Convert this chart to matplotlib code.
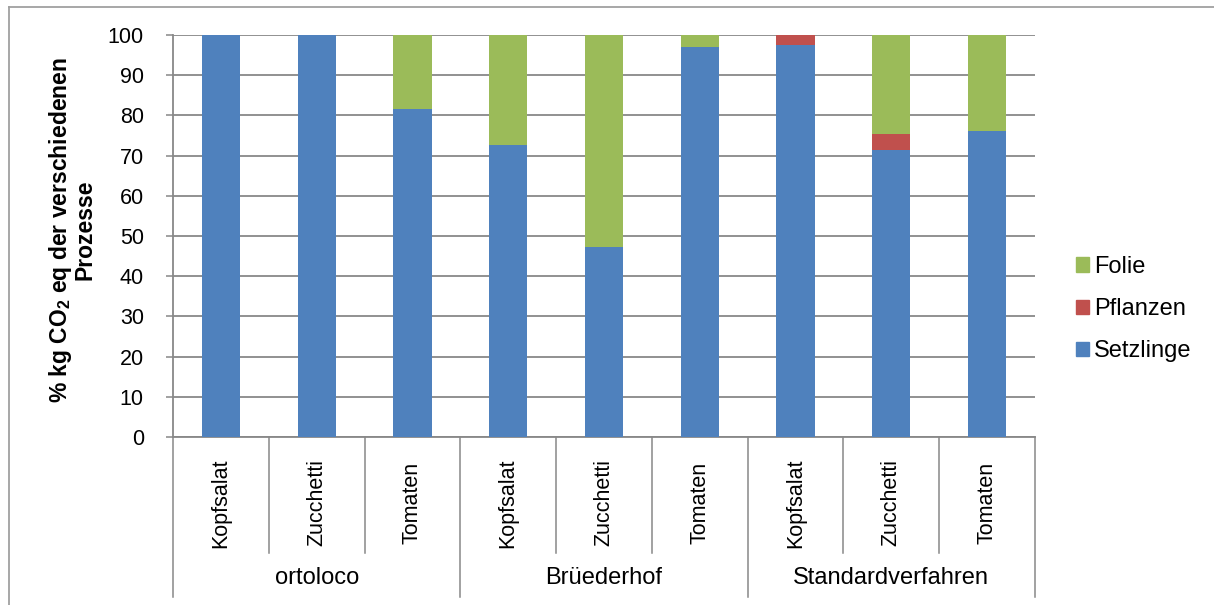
import matplotlib
matplotlib.use("Agg")
import matplotlib.pyplot as plt
from matplotlib.lines import Line2D
from matplotlib.patches import Patch
from matplotlib import transforms

plt.rcParams["font.family"] = ["Liberation Sans", "DejaVu Sans"]
plt.rcParams["mathtext.fontset"] = "custom"
plt.rcParams["mathtext.rm"] = "Liberation Sans"
plt.rcParams["mathtext.bf"] = "Liberation Sans:bold"

# Data: share (%) of kg CO2 eq by process
groups = ["ortoloco", "Brüederhof", "Standardverfahren"]
crops = ["Kopfsalat", "Zucchetti", "Tomaten"]
setzlinge = [100.0, 100.0, 81.5, 72.7, 47.3, 96.9, 97.5, 71.4, 76.2]
pflanzen = [0.0, 0.0, 0.0, 0.0, 0.0, 0.0, 2.5, 4.0, 0.0]
folie = [0.0, 0.0, 18.5, 27.3, 52.7, 3.1, 0.0, 24.6, 23.8]
y_ticks = [0, 10, 20, 30, 40, 50, 60, 70, 80, 90, 100]

c_setz = "#4F81BD"
c_pfl = "#C0504D"
c_fol = "#9BBB59"
grid_c = "#888888"

W, H = 1214, 605
fig = plt.figure(figsize=(W / 100, H / 100), dpi=100)

def fy(py):
    return 1 - py / H

left, right, top, bottom = 173, 1035, 35, 437
ax = fig.add_axes([left / W, fy(bottom), (right - left) / W, (bottom - top) / H])

n = len(setzlinge)
x = list(range(n))
bw = 0.4
base2 = [s + p for s, p in zip(setzlinge, pflanzen)]
ax.bar(x, setzlinge, bw, color=c_setz, zorder=3)
ax.bar(x, pflanzen, bw, bottom=setzlinge, color=c_pfl, zorder=3)
ax.bar(x, folie, bw, bottom=base2, color=c_fol, zorder=3)

ax.set_xlim(-0.5, n - 0.5)
ax.set_ylim(0, 100)
ax.set_yticks(y_ticks)
ax.set_yticklabels([str(t) for t in y_ticks], fontsize=15.5)
ax.yaxis.grid(True, color=grid_c, linewidth=1.3, zorder=0)
ax.set_axisbelow(True)
ax.tick_params(axis="y", direction="out", length=5, width=1.1, color=grid_c, pad=16)
ax.set_xticks([])
for s in ("top", "right"):
    ax.spines[s].set_visible(False)
for s in ("left", "bottom"):
    ax.spines[s].set_color(grid_c)
    ax.spines[s].set_linewidth(1.3)

# Two-level category axis below the plot
tr = transforms.blended_transform_factory(ax.transData, fig.transFigure)
for i in range(n - 1):
    xb = i + 0.5
    if (i + 1) % 3 == 0:
        continue
    fig.add_artist(Line2D([xb, xb], [fy(bottom), fy(553)], transform=tr,
                          color=grid_c, linewidth=1.1))
for xb in (-0.5, 2.5, 5.5, 8.5):
    fig.add_artist(Line2D([xb, xb], [fy(bottom), fy(597)], transform=tr,
                          color=grid_c, linewidth=1.1))
for i in range(n):
    fig.text(i, fy(503), crops[i % 3], transform=tr, rotation=90,
             ha="center", va="center", fontsize=15.5)
for g, name in enumerate(groups):
    fig.text(3 * g + 1, fy(578), name, transform=tr,
             ha="center", va="center", fontsize=17)

fig.text(72 / W, fy(230),
         "% kg CO$_\\mathbf{2}$ eq der verschiedenen\nProzesse",
         rotation=90, ha="center", va="center", fontsize=16.5,
         fontweight="bold", multialignment="center", linespacing=0.95)

handles = [Patch(color=c_fol), Patch(color=c_pfl), Patch(color=c_setz)]
fig.legend(handles, ["Folie", "Pflanzen", "Setzlinge"],
           loc="center left", bbox_to_anchor=(1076 / W, fy(309)),
           frameon=False, fontsize=17, handlelength=0.55, handleheight=0.55,
           handletextpad=0.2, labelspacing=0.85, borderpad=0, borderaxespad=0)

# Chart frame
fig.add_artist(Line2D([9 / W, 9 / W], [fy(7), 0], transform=fig.transFigure,
                      color="#a0a0a0", linewidth=1.3))
fig.add_artist(Line2D([9 / W, 1], [fy(7), fy(7)], transform=fig.transFigure,
                      color="#a0a0a0", linewidth=1.3))

fig.savefig("out.png", dpi=100)
